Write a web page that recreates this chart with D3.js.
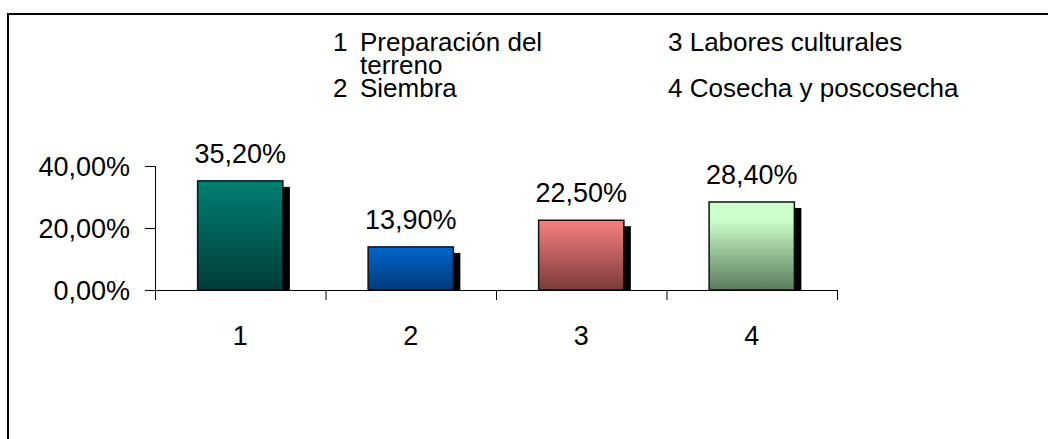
<!DOCTYPE html>
<html lang="es">
<head>
  <meta charset="UTF-8">
  <title>Etapas</title>
  <script src="https://cdn.jsdelivr.net/npm/d3@7"></script>
  <style>
    body { margin: 0; background: #fff; }
    text { font-family: Arial, "Liberation Sans", sans-serif; fill: #000; }
  </style>
</head>
<body>
  <script>
    // datos
    var categories = ["1", "2", "3", "4"];
    var values = [0.352, 0.139, 0.225, 0.284];
    var valueLabels = ["35,20%", "13,90%", "22,50%", "28,40%"];
    var yTicks = [0, 0.2, 0.4];
    var yTickLabels = ["0,00%", "20,00%", "40,00%"];
    var legendNums = ["1", "", "2"];
    var legendLeft = ["Preparación del", "terreno", "Siembra"];
    var legendRight = ["3 Labores culturales", "", "4 Cosecha y poscosecha"];
    var barColors = [
      ["#008073", "#003c38"],
      ["#0066cc", "#003a7a"],
      ["#f78080", "#7c3a3a"],
      ["#ccffcc", "#5a7a5a"]
    ];

    var W = 1048, H = 439;
    var fs = "27px";
    var svg = d3.select("body").append("svg").attr("width", W).attr("height", H);

    // marco exterior
    svg.append("rect")
      .attr("x", 8).attr("y", 14)
      .attr("width", 1100).attr("height", 500)
      .attr("fill", "none").attr("stroke", "#000").attr("stroke-width", 2);

    var x = d3.scaleBand().domain(categories).range([155, 837]).paddingInner(0.5).paddingOuter(0.25);
    var y = d3.scaleLinear().domain([0, 0.4]).range([290, 166]);

    var defs = svg.append("defs");
    barColors.forEach(function(c, i) {
      var g = defs.append("linearGradient").attr("id", "g" + i)
        .attr("x1", 0).attr("y1", 0).attr("x2", 0).attr("y2", 1);
      g.append("stop").attr("offset", i == 3 ? "0.2" : "0").attr("stop-color", c[0]);
      g.append("stop").attr("offset", "1").attr("stop-color", c[1]);
    });

    // sombras
    svg.selectAll("rect.shadow").data(values).enter().append("rect")
      .attr("class", "shadow")
      .attr("x", function(d, i) { return x(categories[i]) + 7; })
      .attr("y", function(d) { return y(d) + 6; })
      .attr("width", x.bandwidth())
      .attr("height", function(d) { return y(0) - y(d) - 5; })
      .attr("fill", "#000");

    // barras
    svg.selectAll("rect.bar").data(values).enter().append("rect")
      .attr("class", "bar")
      .attr("x", function(d, i) { return x(categories[i]); })
      .attr("y", function(d) { return y(d); })
      .attr("width", x.bandwidth())
      .attr("height", function(d) { return y(0) - y(d); })
      .attr("fill", function(d, i) { return "url(#g" + i + ")"; })
      .attr("stroke", "#111").attr("stroke-width", 1.5);

    // ejes
    var yAxis = d3.axisLeft(y).tickValues(yTicks).tickSize(10)
      .tickFormat(function(d, i) { return yTickLabels[i]; });
    var gy = svg.append("g").attr("transform", "translate(155,0)").call(yAxis);
    gy.selectAll("text").attr("x", -25).style("font-size", fs).attr("dy", "0.35em");

    var xTicks = d3.scaleLinear().domain([0, 4]).range([155, 837]);
    var xAxis = d3.axisBottom(xTicks).ticks(4).tickSize(10).tickFormat("");
    svg.append("g").attr("transform", "translate(0," + y(0) + ")").call(xAxis);
    svg.selectAll(".domain").attr("stroke", "#000");
    svg.selectAll(".tick line").attr("stroke", "#000");

    svg.selectAll("text.cat").data(categories).enter().append("text")
      .attr("class", "cat")
      .attr("x", function(d) { return x(d) + x.bandwidth() / 2; })
      .attr("y", 345)
      .attr("text-anchor", "middle")
      .style("font-size", fs)
      .text(function(d) { return d; });

    // etiquetas de datos
    svg.selectAll("text.val").data(values).enter().append("text")
      .attr("class", "val")
      .attr("x", function(d, i) { return x(categories[i]) + x.bandwidth() / 2; })
      .attr("y", function(d) { return y(d) - 18; })
      .attr("text-anchor", "middle")
      .style("font-size", fs)
      .text(function(d, i) { return valueLabels[i]; });

    // leyenda de texto
    var lfs = "26px";
    svg.selectAll("text.legn").data(legendNums).enter().append("text")
      .attr("class", "legn")
      .attr("x", 333)
      .attr("y", function(d, i) { return 51 + i * 23; })
      .style("font-size", lfs)
      .text(function(d) { return d; });
    svg.selectAll("text.legl").data(legendLeft).enter().append("text")
      .attr("class", "legl")
      .attr("x", 360)
      .attr("y", function(d, i) { return 51 + i * 23; })
      .style("font-size", lfs)
      .text(function(d) { return d; });
    svg.selectAll("text.legr").data(legendRight).enter().append("text")
      .attr("class", "legr")
      .attr("x", 668)
      .attr("y", function(d, i) { return 51 + i * 23; })
      .style("font-size", lfs)
      .text(function(d) { return d; });
  </script>
</body>
</html>
